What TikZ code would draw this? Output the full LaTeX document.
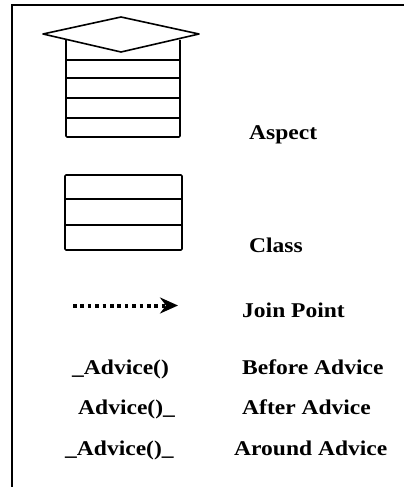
\documentclass[tikz,border=0pt]{standalone}
\usepackage{fontspec}
\usepackage{graphicx}
\setmainfont{Liberation Serif}
\usetikzlibrary{arrows.meta}
\newcommand{\widetext}[1]{\scalebox{1.12}[1]{#1}}
\begin{document}
\begin{tikzpicture}[x=1pt,y=-1pt,
  shape line/.style={line width=1.6pt, line join=round},
  legend/.style={font=\fontsize{21}{24}\selectfont\bfseries, inner sep=0pt, anchor=base west},
  code/.style={font=\fontsize{21}{24}\selectfont\bfseries, inner sep=0pt, anchor=base west}]
\useasboundingbox (0,0) rectangle (404,487);
% frame: top and left edges only
\draw[line width=1.6pt] (404,5) -- (12,5) -- (12,487);
% aspect symbol: stacked box under a diamond lid
\draw[shape line, rounded corners=1pt] (66,40) -- (66,137) -- (180,137) -- (180,40);
\foreach \y in {60,78,98,118} \draw[shape line] (66,\y) -- (180,\y);
\draw[shape line, fill=white] (43,34) -- (121,17) -- (199,34) -- (121,52) -- cycle;
\node[legend] (aspect) at (249,139) {\widetext{Aspect}};
% class symbol
\draw[shape line, rounded corners=1pt] (65,175) rectangle (182,250);
\draw[shape line] (65,199) -- (182,199);
\draw[shape line] (65,225) -- (182,225);
\node[legend] (class) at (249,252) {\widetext{Class}};
% join point: dotted arrow
\coordinate (jpa) at (73,305.5);
\coordinate (jpb) at (178,305.5);
\draw[line width=4pt, dash pattern=on 3.6pt off 3.8pt,
  -{Stealth[length=18pt,width=16pt,inset=6pt]}] (jpa) -- (jpb);
\node[legend] (join) at (242,317) {\widetext{Join Point}};
% advice notation
\node[code] (before) at (72,374) {\widetext{\_Advice()}};
\node[legend] (beforet) at (242,374) {\widetext{Before Advice}};
\node[code] (after) at (78,414) {\widetext{Advice()\_}};
\node[legend] (aftert) at (242,414) {\widetext{After Advice}};
\node[code] (around) at (65,455) {\widetext{\_Advice()\_}};
\node[legend] (aroundt) at (234,455) {\widetext{Around Advice}};
\end{tikzpicture}
\end{document}
